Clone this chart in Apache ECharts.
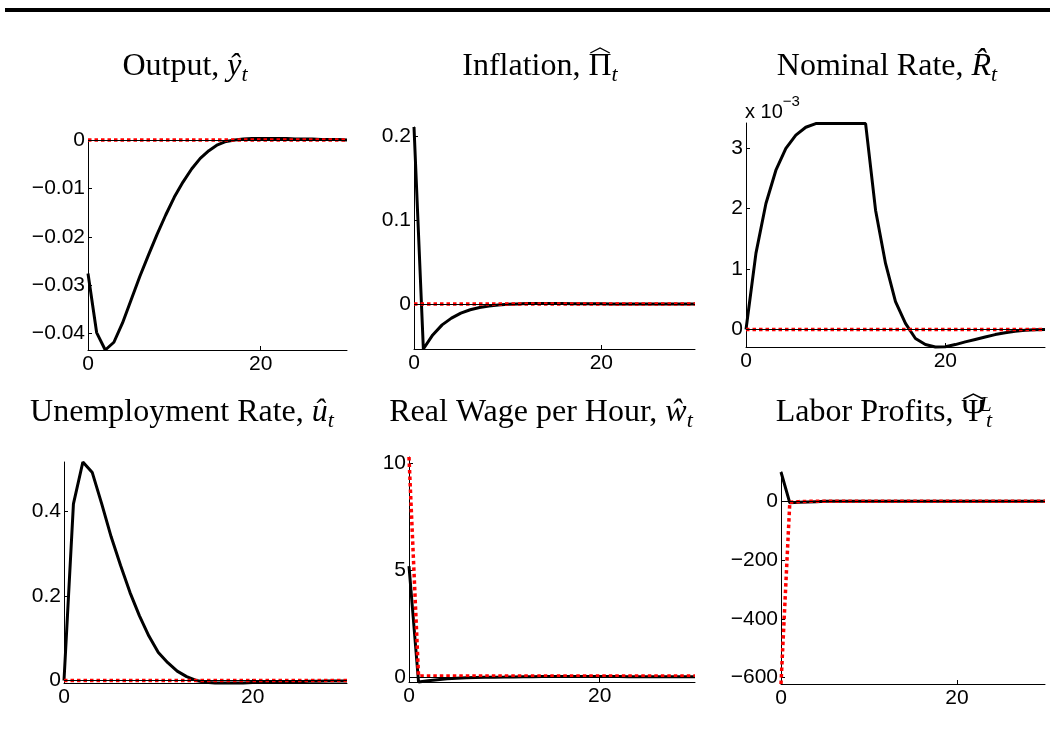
<!DOCTYPE html>
<html>
<head>
<meta charset="utf-8">
<script src="https://cdn.jsdelivr.net/npm/echarts@6/dist/echarts.min.js"></script>
<style>html,body{margin:0;padding:0;background:#fff}#c{width:1050px;height:733px}</style>
</head>
<body>
<div id="c"></div>
<script>
// ---------- data ----------
const periods = [0,1,2,3,4,5,6,7,8,9,10,11,12,13,14,15,16,17,18,19,20,21,22,23,24,25,26,27,28,29,30];

const outputBlack = [-0.0276,-0.0398,-0.0434,-0.0418,-0.0378,-0.0330,-0.0282,-0.0238,-0.0195,-0.0155,-0.0118,-0.0087,-0.0060,-0.0038,-0.0022,-0.0010,-0.0003,0.0000,0.0002,0.0003,0.0003,0.0003,0.0003,0.0003,0.0002,0.0002,0.0002,0.0001,0.0001,0.0001,0.0000];
const outputRed = [0,0,0,0,0,0,0,0,0,0,0,0,0,0,0,0,0,0,0,0,0,0,0,0,0,0,0,0,0,0,0];

const inflationBlack = [0.211,-0.0538,-0.037,-0.025,-0.017,-0.011,-0.007,-0.0043,-0.0025,-0.0013,-0.0005,0.0000,0.0004,0.0006,0.0006,0.0005,0.0004,0.0003,0.0002,0.0001,0.0001,0,0,0,0,0,0,0,0,0,0];
const inflationRed = [0,0,0,0,0,0,0,0,0,0,0,0,0,0,0,0,0,0,0,0,0,0,0,0,0,0,0,0,0,0,0];

// nominal rate in units of 10^-3
const rateBlack = [0,1.26,2.08,2.63,2.99,3.21,3.34,3.40,3.40,3.40,3.40,3.40,3.40,1.97,1.09,0.46,0.10,-0.15,-0.25,-0.29,-0.285,-0.25,-0.205,-0.165,-0.125,-0.085,-0.055,-0.03,-0.015,-0.005,0];
const rateRed = [0,0,0,0,0,0,0,0,0,0,0,0,0,0,0,0,0,0,0,0,0,0,0,0,0,0,0,0,0,0,0];

const unempBlack = [0,0.418,0.517,0.492,0.418,0.34,0.272,0.208,0.153,0.105,0.066,0.042,0.022,0.009,0.0,-0.004,-0.006,-0.006,-0.006,-0.006,-0.005,-0.005,-0.004,-0.004,-0.003,-0.003,-0.002,-0.002,-0.001,-0.001,-0.001];
const unempRed = [0,0,0,0,0,0,0,0,0,0,0,0,0,0,0,0,0,0,0,0,0,0,0,0,0,0,0,0,0,0,0];

const wageBlack = [5.2,-0.23,-0.17,-0.12,-0.08,-0.05,-0.03,-0.02,-0.01,-0.005,0,0.01,0.02,0.02,0.03,0.03,0.03,0.03,0.03,0.03,0.03,0.03,0.03,0.02,0.02,0.02,0.02,0.02,0.02,0.02,0.02];
const wageRed = [10.31,0.05,0.05,0.05,0.05,0.05,0.05,0.05,0.05,0.05,0.05,0.05,0.05,0.05,0.05,0.05,0.05,0.05,0.05,0.05,0.05,0.05,0.05,0.05,0.05,0.05,0.05,0.05,0.05,0.05,0.05];

const profitBlack = [100,-5,-3,-2,-1,0,0,0,0,0,0,0,0,0,0,0,0,0,0,0,0,0,0,0,0,0,0,0,0,0,0];
const profitRed = [-622,-3,-1,0,0,0,0,0,0,0,0,0,0,0,0,0,0,0,0,0,0,0,0,0,0,0,0,0,0,0,0];

const xTicks = [0, 20];
const yTicks = [
  [0,-0.01,-0.02,-0.03,-0.04],
  [0,0.1,0.2],
  [0,1,2,3],
  [0,0.2,0.4],
  [0,5,10],
  [0,-200,-400,-600]
];
const yRanges = [[-0.0434,0],[-0.0538,0.211],[-0.29,3.41],[-0.006,0.517],[-0.23,10.31],[-622,100]];

// title pieces: [style, text]
const titles = [
  [['n','Output, '],['i','ŷ'],['sub','t']],
  [['n','Inflation, '],['g','Π'],['sub','t']],
  [['n','Nominal Rate, '],['i','R\u0302'],['sub','t']],
  [['n','Unemployment Rate, '],['i','û'],['sub','t']],
  [['n','Real Wage per Hour, '],['i','ŵ'],['sub','t']],
  [['n','Labor Profits, '],['g','Ψ'],['sup','L'],['sub','t']]
];

const blacks = [outputBlack, inflationBlack, rateBlack, unempBlack, wageBlack, profitBlack];
const reds = [outputRed, inflationRed, rateRed, unempRed, wageRed, profitRed];

// ---------- layout ----------
const grids = [
  {left:88, top:140, width:259, height:210},
  {left:414, top:127, width:281, height:222},
  {left:746, top:123, width:299, height:224},
  {left:64, top:462, width:283, height:221},
  {left:409, top:457, width:286, height:225},
  {left:781, top:472, width:264, height:212}
];
const titlePos = [[185,67],[540,67],[887,67],[182,413],[541,413],[884,413]];

const sans = "'Liberation Sans', Arial, sans-serif";
const tickFont = {fontFamily:sans, fontSize:21, color:'#000'};
const serif = "'Liberation Serif', serif";
const TS = 32, SS = 22;
const richStyles = {
  n:{fontFamily:serif, fontSize:TS, lineHeight:38},
  i:{fontFamily:serif, fontStyle:'italic', fontSize:TS, lineHeight:38},
  g:{fontFamily:serif, fontSize:TS, lineHeight:38},
  sub:{fontFamily:serif, fontStyle:'italic', fontSize:SS, lineHeight:18, verticalAlign:'bottom'},
  sup:{fontFamily:serif, fontStyle:'italic', fontSize:SS, lineHeight:20, verticalAlign:'top', width:1}
};
const mctx = document.createElement('canvas').getContext('2d');
function tokWidth(style, text) {
  const s = richStyles[style];
  if (s.width != null) return s.width;
  mctx.font = (s.fontStyle || 'normal') + ' normal ' + s.fontSize + 'px ' + s.fontFamily;
  return mctx.measureText(text).width;
}

const xAxes = [], yAxes = [], series = [], graphics = [];
grids.forEach((g, i) => {
  xAxes.push({
    type:'value', gridIndex:i, min:0, max:30,
    axisLine:{onZero:false, lineStyle:{color:'#000', width:1}},
    axisTick:{inside:true, length:4, customValues:xTicks, lineStyle:{color:'#000'}},
    axisLabel:Object.assign({customValues:xTicks, margin:4}, tickFont),
    splitLine:{show:false}
  });
  yAxes.push({
    type:'value', gridIndex:i, min:yRanges[i][0], max:yRanges[i][1],
    axisLine:{show:true, onZero:false, lineStyle:{color:'#000', width:1}},
    axisTick:{show:true, inside:true, length:4, customValues:yTicks[i], lineStyle:{color:'#000'}},
    axisLabel:Object.assign({customValues:yTicks[i], margin:3,
      formatter:v => String(v).replace('-', '\u2212')}, tickFont),
    splitLine:{show:false}
  });
  series.push({
    type:'line', xAxisIndex:i, yAxisIndex:i, showSymbol:false, clip:false,
    data: periods.map((p, k) => [p, blacks[i][k]]),
    lineStyle:{color:'#000', width:3},
    markLine:{silent:true, symbol:'none', label:{show:false},
      lineStyle:{color:'#000', width:1, type:'solid'}, data:[{yAxis:0}]},
    z:2
  });
  series.push({
    type:'line', xAxisIndex:i, yAxisIndex:i, showSymbol:false, clip:false,
    data: periods.map((p, k) => [p, reds[i][k]]),
    lineStyle:{color:'#ff0000', width:3.5, type:[3.5,3], cap:'butt'},
    z:3
  });

  // title as rich text
  const pieces = titles[i];
  const text = pieces.map(([s, t]) => '{' + s + '|' + t + '}').join('');
  const cx = titlePos[i][0], cy = titlePos[i][1];
  graphics.push({
    type:'text', x:cx, y:cy,
    style:{text:text, align:'center', verticalAlign:'middle',
      fontFamily:serif, fontSize:TS, lineHeight:38, fill:'#000', rich:richStyles}
  });
  // wide hat over upright Greek letters
  const total = pieces.reduce((a, [s, t]) => a + tokWidth(s, t), 0);
  let x0 = cx - total / 2;
  pieces.forEach(([s, t]) => {
    const w = tokWidth(s, t);
    if (s === 'g') {
      const gx = x0 + w / 2, base = cy + 11, hw = w * 0.42;
      graphics.push({type:'polyline', silent:true,
        shape:{points:[[gx - hw, base - 25], [gx, base - 30], [gx + hw, base - 25]]},
        style:{stroke:'#000', lineWidth:1.4, fill:null}});
    }
    x0 += w;
  });
});

graphics.push({type:'rect', shape:{x:5, y:8, width:1045, height:4}, style:{fill:'#000'}});
graphics.push({
  type:'text', x:745, y:112,
  style:{text:'x 10{sup|\u22123}', align:'left', verticalAlign:'middle',
    fontFamily:sans, fontSize:20, lineHeight:36, fill:'#000',
    rich:{sup:{fontFamily:sans, fontSize:15, lineHeight:12, verticalAlign:'top'}}}
});

const chart = echarts.init(document.getElementById('c'), null, {renderer:'canvas'});
chart.setOption({
  animation:false,
  backgroundColor:'#fff',
  grid: grids,
  xAxis: xAxes,
  yAxis: yAxes,
  series: series,
  graphic: graphics
});
</script>
</body>
</html>
